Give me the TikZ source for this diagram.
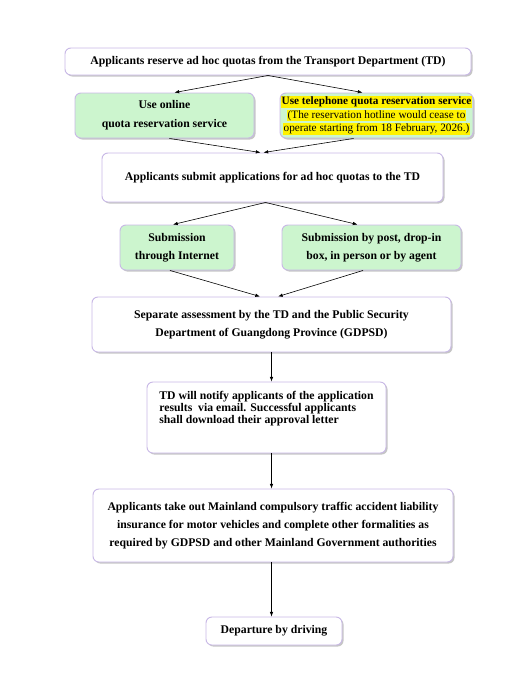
\documentclass[tikz,border=0pt]{standalone}
\usepackage{fontspec}
\setmainfont{Liberation Serif}
\usetikzlibrary{arrows.meta}
\usetikzlibrary{shadows}
\definecolor{boxline}{RGB}{200,184,230}
\definecolor{boxgreen}{RGB}{204,245,206}
\newcommand{\hl}[1]{{\setlength{\fboxsep}{0.4pt}\colorbox{yellow}{#1}}}

\begin{document}
\begin{tikzpicture}[x=0.03cm, y=-0.03cm,
      box/.style={draw=boxline, line width=0.8, fill=white, rounded corners=5,
        drop shadow={shadow xshift=1.3pt, shadow yshift=-1.3pt, fill=black!45},
        font=\fontsize{10}{11}\selectfont\bfseries, align=center, inner sep=1pt},
      gbox/.style={box, fill=boxgreen},
      arr/.style={-{Latex[length=4pt, width=3pt]}, line width=0.5}
    ]
    \useasboundingbox (0,0) rectangle (511,697);
    % boxes
    \node [box, minimum width=406*0.03cm, minimum height=27*0.03cm] (top) at (268, 61.5)
      {Applicants reserve ad hoc quotas from the Transport Department (TD)};
    \node [gbox, minimum width=179*0.03cm, minimum height=45*0.03cm,
      font=\fontsize{10}{16}\selectfont\bfseries] (online) at (164.5, 115.5)
      {Use online\\quota reservation service};
    \node [gbox, minimum width=189*0.03cm, minimum height=45*0.03cm,
      font=\fontsize{9.6}{11.5}\selectfont] (phone) at (376.5, 115.5)
      {\hl{\bfseries Use telephone quota reservation service}\\
       \hl{(The reservation hotline would cease to}\\
       \hl{operate starting from 18 February, 2026.)}};
    \node [box, minimum width=341*0.03cm, minimum height=49*0.03cm] (submit) at (272.5, 177.5)
      {Applicants submit applications for ad hoc quotas to the TD};
    \node [gbox, minimum width=114*0.03cm, minimum height=45*0.03cm,
      font=\fontsize{10}{15.5}\selectfont\bfseries] (inet) at (177, 247.5)
      {Submission\\through Internet};
    \node [gbox, minimum width=179*0.03cm, minimum height=45*0.03cm,
      font=\fontsize{10}{15.5}\selectfont\bfseries] (post) at (371.5, 247.5)
      {Submission by post, drop-in\\box, in person or by agent};
    \node [box, minimum width=359*0.03cm, minimum height=55*0.03cm,
      font=\fontsize{10}{15}\selectfont\bfseries] (assess) at (271.5, 324.5)
      {Separate assessment by the TD and the Public Security\\Department of Guangdong Province (GDPSD)};
    \node [box, minimum width=239*0.03cm, minimum height=71*0.03cm,
      font=\fontsize{10}{10}\selectfont\bfseries, align=left] (notify) at (266.5, 417.5)
      {TD will notify applicants of the application\\
       results\ \ via email. Successful applicants\\
       shall download their approval letter\\[7pt]~};
    \node [box, minimum width=360*0.03cm, minimum height=73*0.03cm,
      font=\fontsize{10}{15.5}\selectfont\bfseries] (insure) at (273, 525.5)
      {Applicants take out Mainland compulsory traffic accident liability\\
       insurance for motor vehicles and complete other formalities as\\
       required by GDPSD and other Mainland Government authorities};
    \node [box, minimum width=136*0.03cm, minimum height=28*0.03cm] (depart) at (274, 631)
      {Departure by driving};

    % arrows
    \draw [arr] (top.south) -- ([xshift=10*0.03cm]online.north);
    \draw [arr] (top.south) -- ([xshift=-14*0.03cm]phone.north);
    \draw [arr] ([xshift=5*0.03cm]online.south) -- ([xshift=-12*0.03cm]submit.north);
    \draw [arr] ([xshift=-23*0.03cm]phone.south) -- ([xshift=-9*0.03cm]submit.north);
    \draw [arr] ([xshift=-7*0.03cm]submit.south) -- ([xshift=-4*0.03cm]inet.north);
    \draw [arr] ([xshift=-7*0.03cm]submit.south) -- ([xshift=-14*0.03cm]post.north);
    \draw [arr] ([xshift=-7*0.03cm]inet.south) -- ([xshift=-11.5*0.03cm]assess.north);
    \draw [arr] ([xshift=-8.5*0.03cm]post.south) -- ([xshift=6.5*0.03cm]assess.north);
    \draw [arr] (assess.south) -- (notify.north -| assess.south);
    \draw [arr] (notify.south -| assess.south) -- (insure.north -| assess.south);
    \draw [arr] (insure.south -| assess.south) -- (depart.north -| assess.south);
\end{tikzpicture}
\end{document}
